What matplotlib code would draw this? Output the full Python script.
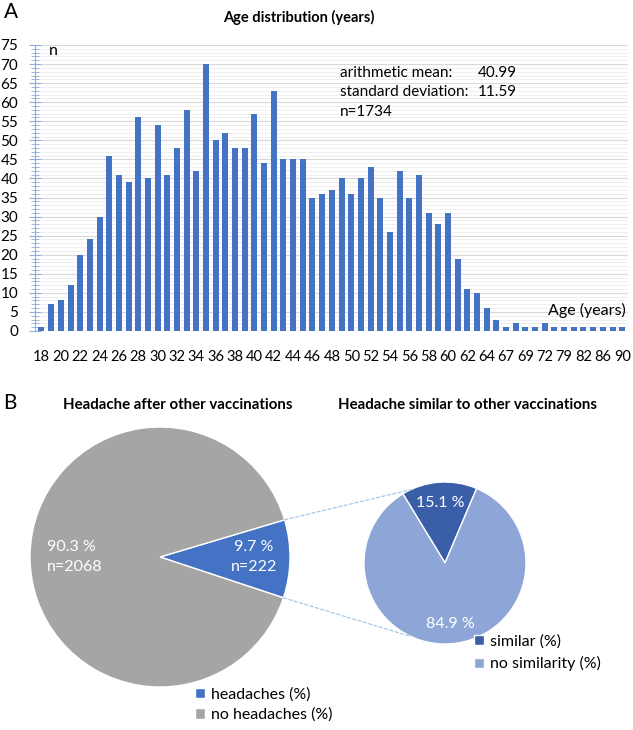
import numpy as np
import matplotlib
matplotlib.use("Agg")
import matplotlib.pyplot as plt
from matplotlib.patches import ConnectionPatch
from matplotlib.ticker import MultipleLocator

plt.rcParams['font.family'] = ['Lato', 'DejaVu Sans']

# age distribution (bars), one bar per age that occurs
ages = [18, 19, 20, 21, 22, 23, 24, 25, 26, 27, 28, 29, 30, 31, 32, 33,
        34, 35, 36, 37, 38, 39, 40, 41, 42, 43, 44, 45, 46, 47, 48, 49,
        50, 51, 52, 53, 54, 55, 56, 57, 58, 59, 60, 61, 62, 63, 64, 65,
        67, 68, 69, 70, 72, 74, 79, 80, 82, 84, 86, 88, 90]
counts = [1, 7, 8, 12, 20, 24, 30, 46, 41, 39, 56, 40, 54, 41, 48, 58,
          42, 70, 50, 52, 48, 48, 57, 44, 63, 45, 45, 45, 35, 36, 37, 40,
          36, 40, 43, 35, 26, 42, 35, 41, 31, 28, 31, 19, 11, 10, 6, 3,
          1, 2, 1, 1, 2, 1, 1, 1, 1, 1, 1, 1, 1]
age_mean = 40.99
age_sd = 11.59
age_n = 1734

# headache pies
headache_labels = ["headaches (%)", "no headaches (%)"]
headache_pct = [9.7, 90.3]
headache_n = [222, 2068]
similar_labels = ["similar (%)", "no similarity (%)"]
similar_pct = [15.1, 84.9]

W, H = 633, 730
fig = plt.figure(figsize=(W / 100, H / 100), dpi=100)

def px(x, y):
    return x / W, 1 - y / H

# ---- A: bar chart ----
ax = fig.add_axes([35 / W, 399 / H, 593 / W, 286 / H])
x = np.arange(len(ages))
ax.bar(x, counts, width=0.62, color='#4472C4', zorder=3)
ax.set_xlim(-0.67, 60.6)
ax.set_ylim(0, 75)
ax.yaxis.set_major_locator(MultipleLocator(5))
ax.yaxis.set_minor_locator(MultipleLocator(1))
ax.grid(axis='y', which='major', color='#D9D9D9', linewidth=0.8, zorder=0)
ax.grid(axis='y', which='minor', color='#EDEDED', linewidth=0.6, zorder=0)
for s in ['top', 'right', 'bottom']:
    ax.spines[s].set_visible(False)
ax.spines['left'].set_color('#8FAADC')
ax.tick_params(axis='y', which='major', direction='inout', length=8,
               color='#8FAADC', labelsize=11, pad=8)
ax.tick_params(axis='y', which='minor', direction='inout', length=6,
               color='#8FAADC')
ax.set_xticks(x[::2])
ax.set_xticklabels([str(a) for a in ages[::2]])
ax.tick_params(axis='x', length=0, labelsize=10.5, pad=14)

ax.text(0.8, 73.5, "n", fontsize=11.5, va='center', ha='left')
ax.text(60.4, 5.5, "Age (years)", fontsize=11.5, ha='right', va='center')
fig.text(*px(340, 73), "arithmetic mean:", fontsize=11, va='center')
fig.text(*px(478, 73), f"{age_mean:.2f}", fontsize=11, va='center')
fig.text(*px(340, 92), "standard deviation:", fontsize=11, va='center')
fig.text(*px(478, 92), f"{age_sd:.2f}", fontsize=11, va='center')
fig.text(*px(340, 112), f"n={age_n}", fontsize=11, va='center')

fig.text(*px(299, 17), "Age distribution (years)", fontsize=10.5,
         fontweight='bold', ha='center', va='center')
fig.text(*px(4, 12), "A", fontsize=15, ha='left', va='center')

# ---- B: pies ----
fig.text(*px(3, 403), "B", fontsize=15, ha='left', va='center')
fig.text(*px(178, 405), "Headache after other vaccinations", fontsize=10.8,
         fontweight='bold', ha='center', va='center')
fig.text(*px(467, 405), "Headache similar to other vaccinations", fontsize=10.8,
         fontweight='bold', ha='center', va='center')

ax1 = fig.add_axes([30 / W, 43 / H, 260 / W, 260 / H])
w1, _ = ax1.pie(headache_pct, colors=['#4472C4', '#A5A5A5'], startangle=-18.3,
                wedgeprops=dict(edgecolor='white', linewidth=1))
ax1.set_xlim(-1, 1)
ax1.set_ylim(-1, 1)
ax1.text(-0.87, 0, f"{headache_pct[1]} %\nn={headache_n[1]}", color='white',
         fontsize=11.5, ha='left', va='center', linespacing=1.5)
ax1.text(0.72, 0, f"{headache_pct[0]} %\nn={headache_n[0]}", color='white',
         fontsize=11.5, ha='center', va='center', linespacing=1.5)

ax2 = fig.add_axes([364 / W, 86 / H, 162 / W, 162 / H])
w2, _ = ax2.pie(similar_pct, colors=['#3B5EA8', '#8EA5D7'], startangle=67,
                wedgeprops=dict(edgecolor='white', linewidth=1))
ax2.set_xlim(-1, 1)
ax2.set_ylim(-1, 1)
ax2.text(-0.06, 0.74, f"{similar_pct[0]} %", color='white', fontsize=11.5,
         ha='center', va='center')
ax2.text(0.07, -0.75, f"{similar_pct[1]} %", color='white', fontsize=11.5,
         ha='center', va='center')

# dashed connectors between the headache wedge and the second pie
for a1, a2 in [(w1[0].theta2, 115), (w1[0].theta1, 245)]:
    p1 = (np.cos(np.radians(a1)), np.sin(np.radians(a1)))
    p2 = (np.cos(np.radians(a2)), np.sin(np.radians(a2)))
    con = ConnectionPatch(xyA=p1, coordsA=ax1.transData, xyB=p2,
                          coordsB=ax2.transData, color='#9DC3E6',
                          linewidth=0.8, linestyle=(0, (3, 2)))
    fig.add_artist(con)

ax1.legend(w1, headache_labels, loc='upper left', bbox_to_anchor=px(195, 687),
           bbox_transform=fig.transFigure, frameon=False, fontsize=11.5,
           handlelength=0.6, handleheight=0.6, handletextpad=0.4,
           labelspacing=0.4, borderpad=0, borderaxespad=0)
ax2.legend(w2, similar_labels, loc='upper left', bbox_to_anchor=px(474, 634),
           bbox_transform=fig.transFigure, frameon=False, fontsize=11.5,
           handlelength=0.6, handleheight=0.6, handletextpad=0.4,
           labelspacing=0.5, borderpad=0, borderaxespad=0)

fig.savefig("out.png", dpi=100)
